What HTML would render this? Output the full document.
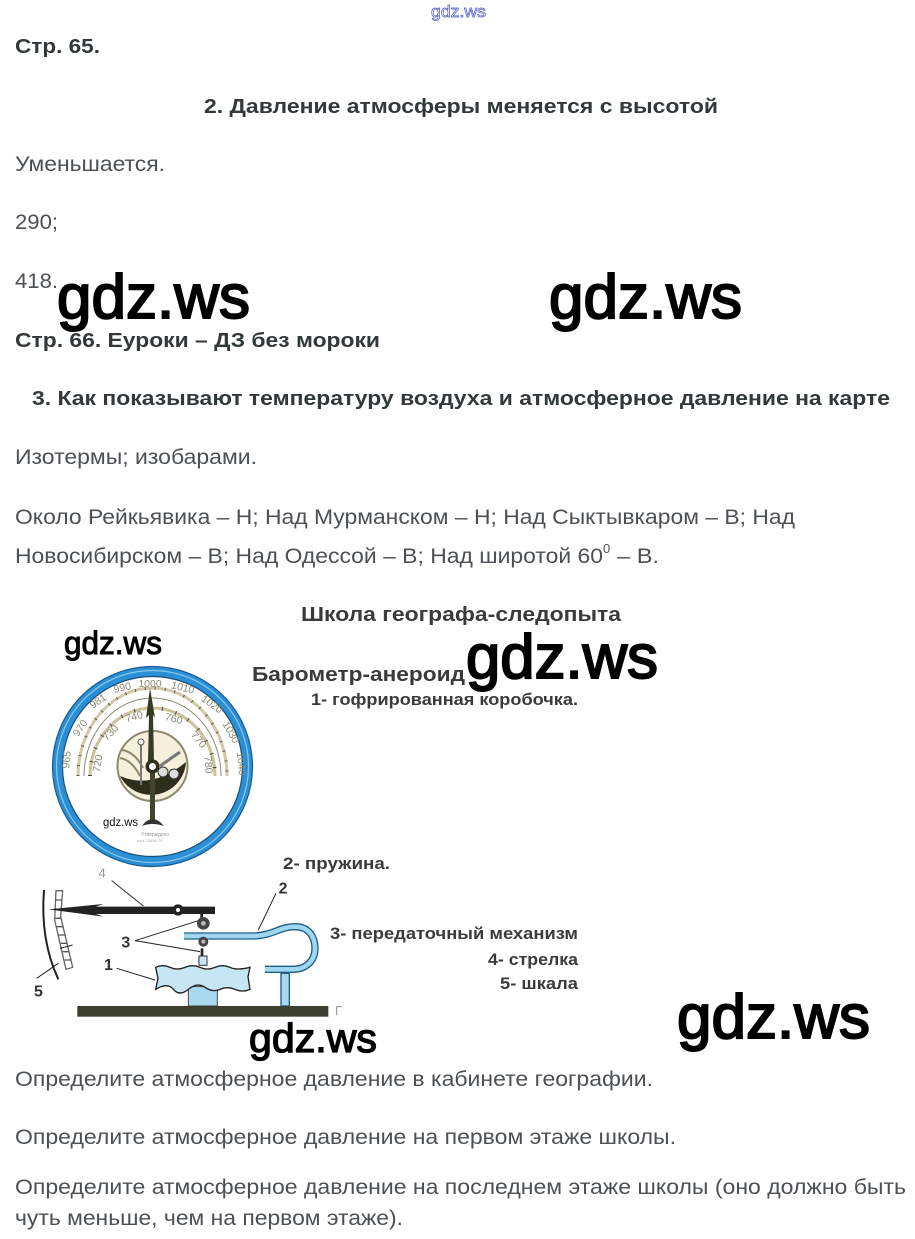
<!DOCTYPE html>
<html><head><meta charset="utf-8">
<style>
html,body{margin:0;padding:0;background:#fff}
svg{display:block}
text{font-family:"Liberation Sans",sans-serif}
.b{font-size:20.5px;font-weight:bold;fill:#33383b}
.r{font-size:21px;fill:#4c5054}
.c{font-size:20px;font-weight:bold;fill:#3a3a3a}
.w{font-weight:normal;fill:#000;stroke:#000;stroke-width:2}
.s{font-size:10.5px;fill:#8a8a78}
</style></head>
<body>
<svg width="915" height="1239" viewBox="0 0 915 1239" xmlns="http://www.w3.org/2000/svg">
<rect width="915" height="1239" fill="#fff"/>
<text x="431" y="17" font-size="17" fill="#fff" stroke="#4a55c8" stroke-width=".7" textLength="55" lengthAdjust="spacingAndGlyphs">gdz.ws</text>
<text class="b" x="15" y="53" textLength="85" lengthAdjust="spacingAndGlyphs">Стр. 65.</text>
<text class="b" x="204" y="113" textLength="514" lengthAdjust="spacingAndGlyphs">2. Давление атмосферы меняется с высотой</text>
<text class="r" x="15" y="171" textLength="150" lengthAdjust="spacingAndGlyphs">Уменьшается.</text>
<text class="r" x="15" y="229" textLength="43" lengthAdjust="spacingAndGlyphs">290;</text>
<text class="r" x="15" y="288" textLength="43" lengthAdjust="spacingAndGlyphs">418.</text>
<text class="b" x="15" y="347" textLength="365" lengthAdjust="spacingAndGlyphs">Стр. 66. Еуроки – ДЗ без мороки</text>
<text class="b" x="32" y="405" textLength="858" lengthAdjust="spacingAndGlyphs">3. Как показывают температуру воздуха и атмосферное давление на карте</text>
<text class="r" x="15" y="464" textLength="242" lengthAdjust="spacingAndGlyphs">Изотермы; изобарами.</text>
<text class="r" x="15" y="524" textLength="780" lengthAdjust="spacingAndGlyphs">Около Рейкьявика – Н; Над Мурманском – Н; Над Сыктывкаром – В; Над</text>
<text class="r" x="15" y="563" textLength="588" lengthAdjust="spacingAndGlyphs">Новосибирском – В; Над Одессой – В; Над широтой 60</text>
<text class="r" x="603" y="553" style="font-size:13px">0</text>
<text class="r" x="617" y="563" textLength="42" lengthAdjust="spacingAndGlyphs">– В.</text>

<text class="c" x="301" y="621" textLength="320" lengthAdjust="spacingAndGlyphs">Школа географа-следопыта</text>
<text class="c" x="252" y="681" textLength="213" lengthAdjust="spacingAndGlyphs">Барометр-анероид</text>
<text class="c" x="311" y="705" style="font-size:17px" textLength="267" lengthAdjust="spacingAndGlyphs">1- гофрированная коробочка.</text>
<text class="c" x="283" y="869" style="font-size:17px" textLength="107" lengthAdjust="spacingAndGlyphs">2- пружина.</text>
<text class="c" x="330" y="939" style="font-size:17px" textLength="248" lengthAdjust="spacingAndGlyphs">3- передаточный механизм</text>
<text class="c" x="488" y="965" style="font-size:17px" textLength="90" lengthAdjust="spacingAndGlyphs">4- стрелка</text>
<text class="c" x="500" y="989" style="font-size:17px" textLength="78" lengthAdjust="spacingAndGlyphs">5- шкала</text>

<!-- barometer dial -->
<circle cx="152.5" cy="766.5" r="95" fill="#fff" stroke="#2a8fd4" stroke-width="10"/>
<circle cx="152.5" cy="766.5" r="100" fill="none" stroke="#1a5a90" stroke-width="1.2"/>
<circle cx="152.5" cy="766.5" r="96" fill="none" stroke="#8cc8ec" stroke-width="1.2"/>
<circle cx="152.5" cy="766.5" r="90" fill="none" stroke="#1c4f78" stroke-width="1.2"/>
<path d="M78 776A74.500 88 0 0 1 227 776" fill="none" stroke="#cfc9a5" stroke-width="3"/>
<path d="M78 776A74.500 88 0 0 1 227 776" fill="none" stroke="#555" stroke-width="3" stroke-dasharray="1 9"/>
<path d="M84 776A68.500 78 0 0 1 221 776" fill="none" stroke="#8a8a6a" stroke-width="1"/>
<path d="M90 776A62.500 68 0 0 1 215 776" fill="none" stroke="#c9c29b" stroke-width="3"/>
<path d="M90 776A62.500 68 0 0 1 215 776" fill="none" stroke="#444" stroke-width="4" stroke-dasharray="1 13"/>
<g text-anchor="middle">
<text class="s" x="70" y="760" transform="rotate(-85 70 760)">965</text>
<text class="s" x="83" y="730" transform="rotate(-55 83 730)">970</text>
<text class="s" x="100" y="704" transform="rotate(-35 100 704)">981</text>
<text class="s" x="123" y="691" transform="rotate(-12 123 691)">990</text>
<text class="s" x="150" y="687">1000</text>
<text class="s" x="182" y="691" transform="rotate(14 182 691)">1010</text>
<text class="s" x="210" y="707" transform="rotate(35 210 707)">1020</text>
<text class="s" x="228" y="734" transform="rotate(60 228 734)">1030</text>
<text class="s" x="238" y="764" transform="rotate(85 238 764)">1040</text>
<text class="s" x="101" y="764" transform="rotate(-80 101 764)">720</text>
<text class="s" x="113" y="735" transform="rotate(-45 113 735)">730</text>
<text class="s" x="135" y="720" transform="rotate(-15 135 720)">740</text>
<text class="s" x="173" y="722" transform="rotate(15 173 722)">760</text>
<text class="s" x="196" y="742" transform="rotate(50 196 742)">770</text>
<text class="s" x="205" y="765" transform="rotate(85 205 765)">780</text>
</g>
<circle cx="152.5" cy="766" r="35" fill="#f4f0dc" stroke="#8b8a6c" stroke-width="2"/>
<path d="M120 776Q152 790 186 762A35 35 0 0 1 120 776Z" fill="#2d2f1c"/>
<path d="M122 750Q135 752 143 768M120 758Q132 760 140 776" fill="none" stroke="#8d8a6a" stroke-width="2"/>
<path d="M141 745V785" stroke="#777" stroke-width="2"/>
<circle cx="141" cy="742" r="3" fill="#fff" stroke="#555"/>
<circle cx="163" cy="772" r="5" fill="#ddd" stroke="#333"/>
<circle cx="174" cy="774" r="5" fill="#ddd" stroke="#333"/>
<path d="M160 766L180 752" stroke="#777" stroke-width="3"/>
<path d="M150 688L155 718L153 715L154 762L148 762L149 715L146 718Z" fill="#353b26"/>
<path d="M150 772H155V820H150Z" fill="#41452f"/>
<path d="M142 826Q152 812 164 826Q152 822 142 826Z" fill="#333"/>
<circle cx="152.5" cy="766.5" r="7" fill="#2d2f1c"/>
<circle cx="152.5" cy="766.5" r="3.500" fill="#fff"/>
<text x="141" y="836" font-size="5" fill="#999">Утверждено</text>
<text x="137" y="842" font-size="4" fill="#aaa">гост 23696-79</text>

<!-- mechanism -->
<g transform="translate(20 850) scale(.33333)">
<path d="M72 120Q60 270 115 388" fill="none" stroke="#222" stroke-width="6"/>
<path d="M108 122L128 122L122 200L158 352L138 358L104 210Z" fill="#fff" stroke="#666" stroke-width="4"/>
<path d="M105 150H126M104 178H124M106 205H124M110 230H130M116 255H136M122 280H142M128 305H148M134 330H154" stroke="#555" stroke-width="4"/>
<path d="M85 178L250 162L228 170H585V192H228L250 200Z" fill="#222"/>
<circle cx="474" cy="180" r="17" fill="#222"/><circle cx="474" cy="180" r="6" fill="#fff"/>
<path d="M275 92L370 168" stroke="#333" stroke-width="3"/>
<text x="235" y="82" fill="#999" style="font-size:40px">4</text>
<path d="M545 192V205" stroke="#222" stroke-width="8"/>
<path d="M492 258H705C760 255 780 230 825 230C870 230 885 265 885 295C885 335 855 358 820 358H735" fill="none" stroke="#1e5f88" stroke-width="22"/>
<path d="M492 258H705C760 255 780 230 825 230C870 230 885 265 885 295C885 335 855 358 820 358H735" fill="none" stroke="#9fd6f0" stroke-width="14"/>
<circle cx="550" cy="220" r="19" fill="#444"/><circle cx="550" cy="220" r="7" fill="#bbb"/>
<circle cx="550" cy="275" r="15" fill="#444"/><circle cx="550" cy="275" r="6" fill="#bbb"/>
<path d="M783 370H808V468H783Z" fill="#a9d9ef" stroke="#1e5f88" stroke-width="4"/>
<path d="M546 295V320" stroke="#222" stroke-width="8"/>
<rect x="537" y="318" width="24" height="28" fill="#c6e6f3" stroke="#333" stroke-width="3"/>
<path d="M505 410H592V468H505Z" fill="#a9d9ef" stroke="#444" stroke-width="3"/>
<path d="M407 352Q428 342 450 352T495 352T540 352T585 352T630 352T690 352L684 380L690 418Q668 428 645 418T600 418T555 412T505 418T460 418T407 418L414 385Z" fill="#c6e6f3" stroke="#222" stroke-width="4"/>
<rect x="172" y="468" width="753" height="32" fill="#3d3f2e"/>
<path d="M345 272L535 212M345 272L540 305" stroke="#222" stroke-width="3"/>
<path d="M768 130L715 240" stroke="#222" stroke-width="3"/>
<path d="M290 355L405 390" stroke="#222" stroke-width="3"/>
<path d="M50 385L115 340" stroke="#222" stroke-width="3"/>
<path d="M120 295L158 285" stroke="#222" stroke-width="3"/>
<text x="304" y="292" font-weight="bold" fill="#333" style="font-size:48px">3</text>
<text x="776" y="130" font-weight="bold" fill="#333" style="font-size:48px">2</text>
<text x="252" y="360" font-weight="bold" fill="#333" style="font-size:48px">1</text>
<text x="42" y="440" font-weight="bold" fill="#333" style="font-size:48px">5</text>
<path d="M950 470V495M950 470H965" stroke="#888" stroke-width="3" fill="none"/>
</g>

<text class="r" x="15" y="1086" textLength="638" lengthAdjust="spacingAndGlyphs">Определите атмосферное давление в кабинете географии.</text>
<text class="r" x="15" y="1144" textLength="661" lengthAdjust="spacingAndGlyphs">Определите атмосферное давление на первом этаже школы.</text>
<text class="r" x="15" y="1194" textLength="891" lengthAdjust="spacingAndGlyphs">Определите атмосферное давление на последнем этаже школы (оно должно быть</text>
<text class="r" x="15" y="1225" textLength="388" lengthAdjust="spacingAndGlyphs">чуть меньше, чем на первом этаже).</text>

<text class="w" x="57" y="318" font-size="62" textLength="193" lengthAdjust="spacingAndGlyphs">gdz.ws</text>
<text class="w" x="549" y="318" font-size="62" textLength="193" lengthAdjust="spacingAndGlyphs">gdz.ws</text>
<text class="w" x="466" y="678" font-size="62" textLength="192" lengthAdjust="spacingAndGlyphs">gdz.ws</text>
<text class="w" x="677" y="1038" font-size="62" textLength="193" lengthAdjust="spacingAndGlyphs">gdz.ws</text>
<text class="w" x="64" y="654" font-size="32" style="stroke-width:1" textLength="98" lengthAdjust="spacingAndGlyphs">gdz.ws</text>
<text class="w" x="249" y="1052" font-size="41" style="stroke-width:1.3" textLength="128" lengthAdjust="spacingAndGlyphs">gdz.ws</text>
<text x="103" y="826" font-size="11.500" fill="#111" textLength="35" lengthAdjust="spacingAndGlyphs">gdz.ws</text>
</svg>
</body></html>
